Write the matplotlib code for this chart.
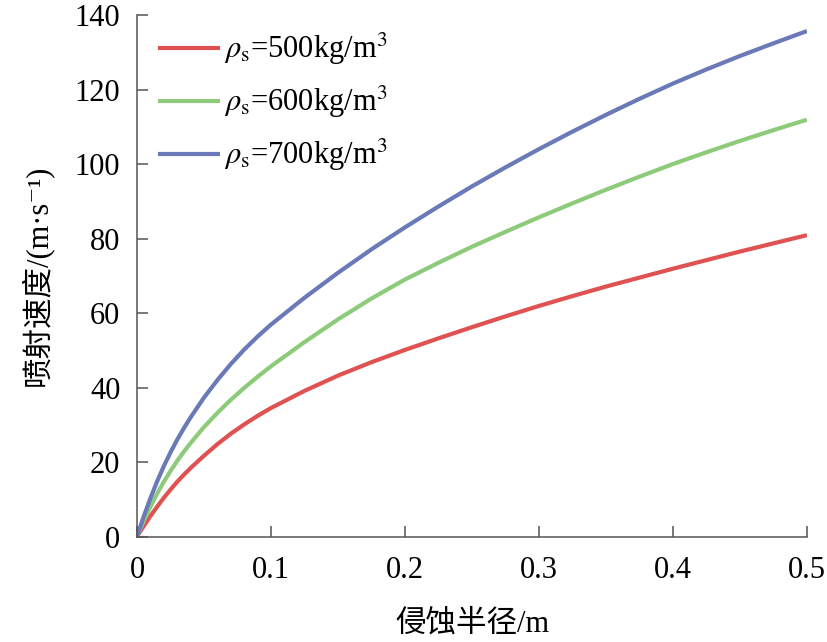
import numpy as np
import matplotlib
matplotlib.use('Agg')
import matplotlib.pyplot as plt

plt.rcParams['font.family'] = ['Liberation Serif', 'Noto Sans CJK SC', 'DejaVu Serif']
plt.rcParams['mathtext.fontset'] = 'stix'

# erosion radius (m) and jet velocity (m/s)
radius = [0, 0.005, 0.01, 0.015, 0.02, 0.025, 0.03, 0.035, 0.04, 0.05,
          0.06, 0.07, 0.08, 0.09, 0.1, 0.125, 0.15, 0.175, 0.2, 0.225,
          0.25, 0.275, 0.3, 0.325, 0.35, 0.375, 0.4, 0.425, 0.45, 0.475, 0.5]
v_500 = [0, 2.8, 5.5, 8.0, 10.4, 12.6, 14.7, 16.6, 18.4, 21.7,
         24.8, 27.6, 30.1, 32.4, 34.5, 39.1, 43.2, 46.8, 50.1, 53.2,
         56.2, 59.1, 61.9, 64.55, 67.1, 69.5, 71.9, 74.2, 76.5, 78.7, 80.9]
v_600 = [0, 4.2, 8.0, 11.5, 14.7, 17.6, 20.3, 22.8, 25.1, 29.4,
         33.2, 36.7, 39.9, 42.9, 45.7, 52.2, 58.3, 63.9, 69.0, 73.5,
         77.8, 81.8, 85.7, 89.45, 93.1, 96.6, 100.0, 103.15, 106.2, 109.1, 111.9]
v_700 = [0, 5.4, 10.3, 14.8, 18.9, 22.6, 26.0, 29.1, 32.0, 37.3,
         42.0, 46.3, 50.2, 53.7, 56.9, 64.1, 70.8, 77.1, 83.0, 88.6,
         94.0, 99.1, 104.0, 108.7, 113.2, 117.5, 121.6, 125.4, 129.0, 132.4, 135.7]
labels = [r'$\rho_\mathrm{s}$=500kg/m$^3$',
          r'$\rho_\mathrm{s}$=600kg/m$^3$',
          r'$\rho_\mathrm{s}$=700kg/m$^3$']
colors = ['#E05252', '#8DCB7A', '#6A79B7']

fig = plt.figure(figsize=(8.27, 6.42), dpi=100, facecolor='w')
ax = fig.add_axes([0.1657, 0.1643, 0.81, 0.8123])

for v, lab, c in zip([v_500, v_600, v_700], labels, colors):
    ax.plot(radius, v, color=c, lw=3, label=lab, solid_capstyle='butt')

ax.set_xlim(0, 0.5)
ax.set_ylim(0, 140)
ax.set_xticks([0, 0.1, 0.2, 0.3, 0.4, 0.5])
ax.set_xticklabels(['0', '0.1', '0.2', '0.3', '0.4', '0.5'])
ax.set_yticks(range(0, 141, 20))
for s in ['top', 'right']:
    ax.spines[s].set_visible(False)
for s in ['left', 'bottom']:
    ax.spines[s].set_color('#555555')
    ax.spines[s].set_linewidth(1.1)
ax.tick_params(direction='in', length=8, width=1.1, color='#555555',
               labelsize=22, pad=12)
ax.tick_params(axis='x', pad=14)

ax.set_xlabel('侵蚀半径/m', fontsize=22, labelpad=18)
ax.set_ylabel('喷射速度/(m·s⁻¹)', fontsize=22, labelpad=16)

ax.legend(loc='upper left', frameon=False, fontsize=22, handlelength=2.0,
          handletextpad=0.15, labelspacing=0.55, borderaxespad=0.3,
          bbox_to_anchor=(0.0, 1.01))

plt.savefig('out.png', dpi=100)
